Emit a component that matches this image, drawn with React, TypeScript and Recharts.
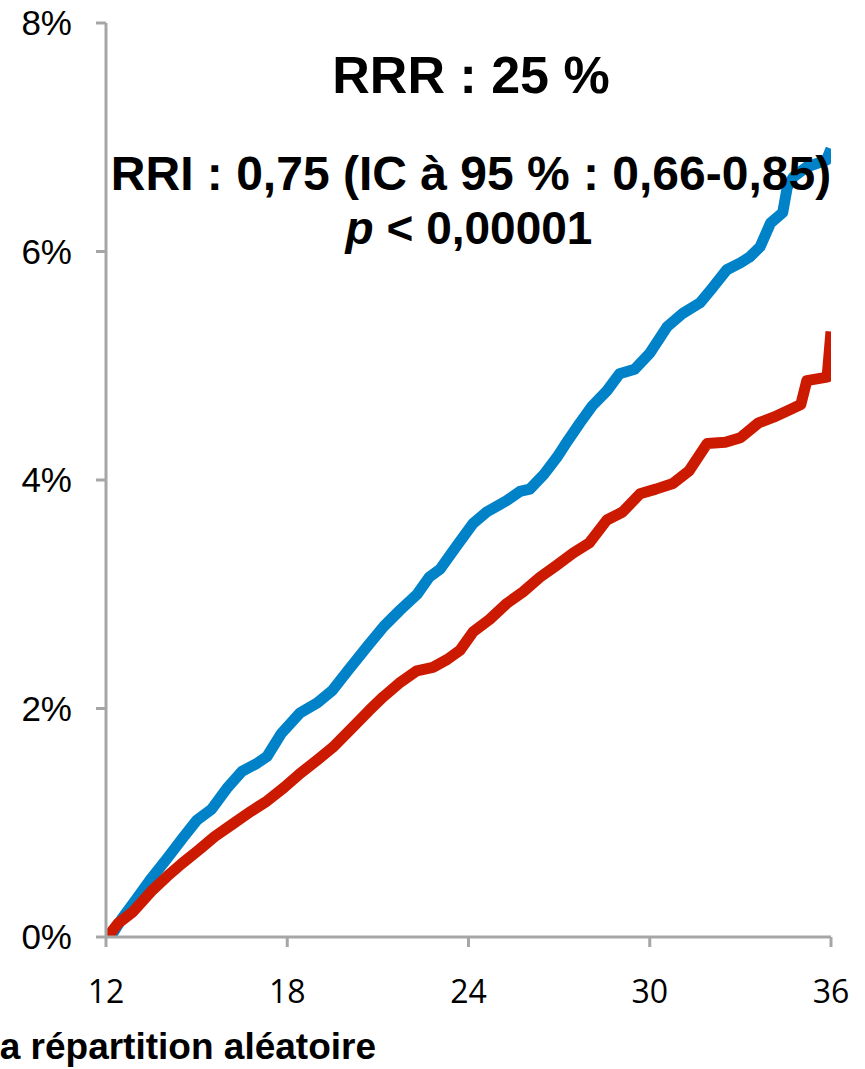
import { LineChart, Line, XAxis, YAxis } from 'recharts';

// months since randomisation (x) and cumulative incidence in % (y)
const blueMonths = [
  12.15, 12.5, 13.0, 13.46, 14.0, 14.55, 15.0, 15.5, 16.0, 16.5, 17.0, 17.33, 17.8,
  18.42, 19.0, 19.5, 20.0, 20.64, 21.2, 21.73, 22.3, 22.7, 23.06, 23.6, 24.15, 24.6,
  25.27, 25.7, 26.03, 26.5, 26.93, 27.3, 27.69, 28.1, 28.58, 29.0, 29.5, 30.0, 30.57,
  31.1, 31.66, 32.1, 32.55, 33.0, 33.3, 33.65, 34.0, 34.4, 34.55, 34.75, 35.2, 35.85, 36.0,
];
const bluePct = [
  0, 0.15, 0.33, 0.5, 0.68, 0.87, 1.02, 1.12, 1.3, 1.45, 1.52, 1.58, 1.78,
  1.96, 2.05, 2.16, 2.33, 2.54, 2.72, 2.86, 3.0, 3.15, 3.22, 3.42, 3.62, 3.72,
  3.82, 3.9, 3.92, 4.05, 4.2, 4.35, 4.5, 4.65, 4.78, 4.93, 4.97, 5.11, 5.34,
  5.46, 5.55, 5.69, 5.84, 5.9, 5.95, 6.04, 6.25, 6.34, 6.56, 6.65, 6.74, 6.8, 6.9,
];

const redMonths = [
  12.05, 12.4, 12.89, 13.5, 14.02, 14.5, 15.11, 15.6, 16.2, 16.8, 17.33, 17.9, 18.42,
  19.0, 19.51, 20.18, 20.7, 21.17, 21.7, 22.29, 22.82, 23.3, 23.72, 24.15, 24.7, 25.27,
  25.8, 26.37, 26.9, 27.46, 28.0, 28.58, 29.1, 29.68, 30.2, 30.77, 31.3, 31.9, 32.5,
  33.0, 33.6, 34.1, 34.6, 35.0, 35.2, 35.87, 36.0,
];
const redPct = [
  0, 0.12, 0.22, 0.4, 0.53, 0.64, 0.77, 0.88, 0.99, 1.1, 1.19, 1.31, 1.43,
  1.55, 1.66, 1.84, 1.98, 2.1, 2.22, 2.33, 2.36, 2.43, 2.51, 2.67, 2.78, 2.92,
  3.02, 3.15, 3.25, 3.36, 3.45, 3.65, 3.72, 3.88, 3.92, 3.97, 4.08, 4.32, 4.33,
  4.37, 4.5, 4.55, 4.61, 4.66, 4.87, 4.9, 5.3,
];

const xTicks = [12, 18, 24, 30, 36];
const yTicks = [0, 2, 4, 6, 8];

const blueData = blueMonths.map((m, i) => ({ m, v: bluePct[i] }));
const redData = redMonths.map((m, i) => ({ m, v: redPct[i] }));

const AXIS = '#A6A6A6';

export default function App() {
  return (
    <div style={{ position: 'absolute', left: 0, top: 0, width: 865, height: 1069, background: '#fff' }}>
      <LineChart
        width={865}
        height={1069}
        margin={{ top: 23, right: 34, bottom: 92, left: 26 }}
      >
        <XAxis
          type="number"
          dataKey="m"
          domain={[12, 36]}
          ticks={xTicks}
          allowDataOverflow
          stroke={AXIS}
          strokeWidth={3}
          tickSize={10}
          tickMargin={33}
          height={40}
          tick={{ fill: '#000', fontSize: 32, fontFamily: 'Open Sans' }}
        />
        <YAxis
          type="number"
          dataKey="v"
          domain={[0, 8]}
          ticks={yTicks}
          allowDataOverflow
          width={80}
          stroke={AXIS}
          strokeWidth={3}
          tickSize={10}
          tickMargin={24}
          tickFormatter={(v) => `${v}%`}
          tick={{ fill: '#000', fontSize: 35, fontFamily: 'Liberation Sans' }}
        />
        <Line
          data={blueData}
          dataKey="v"
          type="linear"
          stroke="#0082C8"
          strokeWidth={11}
          strokeLinejoin="round"
          dot={false}
          isAnimationActive={false}
        />
        <Line
          data={redData}
          dataKey="v"
          type="linear"
          stroke="#CC1A00"
          strokeWidth={11}
          strokeLinejoin="round"
          dot={false}
          isAnimationActive={false}
        />
      </LineChart>
      <svg
        width={865}
        height={1069}
        style={{ position: 'absolute', left: 0, top: 0, pointerEvents: 'none' }}
      >
        <g fontFamily="Liberation Sans, Arial, sans-serif" fontWeight="bold" fill="#000" textAnchor="middle">
          <text x={471} y={93} fontSize={52}>RRR : 25 %</text>
          <text x={471} y={190} fontSize={48}>RRI : 0,75 (IC à 95 % : 0,66-0,85)</text>
          <text x={469} y={244} fontSize={46}>
            <tspan fontStyle="italic">p</tspan> &lt; 0,00001
          </text>
          <text x={376} y={1059} fontSize={37} textAnchor="end">a répartition aléatoire</text>
        </g>
      </svg>
    </div>
  );
}
